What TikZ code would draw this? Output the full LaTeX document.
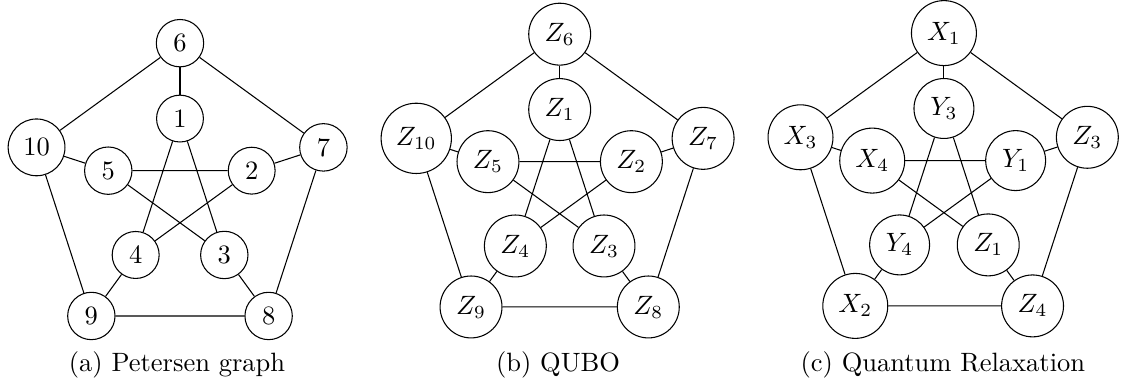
\documentclass[tikz,border=0pt]{standalone}
\usetikzlibrary{calc}
\tikzset{
  vtx/.style={circle, draw, line width=0.4pt},
  edge/.style={line width=0.4pt},
  captext/.style={anchor=base, inner sep=0pt}
}
\begin{document}
\begin{tikzpicture}
\useasboundingbox (0,0) rectangle (424.15pt,-146.04pt);
% (a)
\begin{scope}[shift={(67.92pt,-73.2pt)}]
  \node[vtx] (a6) at (90:2cm) {6};
  \node[vtx] (a7) at (18:2cm) {7};
  \node[vtx] (a8) at (-54:2cm) {8};
  \node[vtx] (a9) at (234:2cm) {9};
  \node[vtx] (a10) at (162:2cm) {10};
  \node[vtx] (a1) at (90:1cm) {1};
  \node[vtx] (a2) at (18:1cm) {2};
  \node[vtx] (a3) at (-54:1cm) {3};
  \node[vtx] (a4) at (234:1cm) {4};
  \node[vtx] (a5) at (162:1cm) {5};
\end{scope}
% (b)
\begin{scope}[shift={(211.2pt,-69.8pt)}]
  \node[vtx] (b6) at (90:2cm) {$Z_6$};
  \node[vtx] (b7) at (18:2cm) {$Z_7$};
  \node[vtx] (b8) at (-54:2cm) {$Z_8$};
  \node[vtx] (b9) at (234:2cm) {$Z_9$};
  \node[vtx] (b10) at (162:2cm) {$Z_{10}$};
  \node[vtx] (b1) at (90:1cm) {$Z_1$};
  \node[vtx] (b2) at (18:1cm) {$Z_2$};
  \node[vtx] (b3) at (-54:1cm) {$Z_3$};
  \node[vtx] (b4) at (234:1cm) {$Z_4$};
  \node[vtx] (b5) at (162:1cm) {$Z_5$};
\end{scope}
% (c)
\begin{scope}[shift={(356.2pt,-69.4pt)}]
  \node[vtx] (c6) at (90:2cm) {$X_1$};
  \node[vtx] (c7) at (18:2cm) {$Z_3$};
  \node[vtx] (c8) at (-54:2cm) {$Z_4$};
  \node[vtx] (c9) at (234:2cm) {$X_2$};
  \node[vtx] (c10) at (162:2cm) {$X_3$};
  \node[vtx] (c1) at (90:1cm) {$Y_3$};
  \node[vtx] (c2) at (18:1cm) {$Y_1$};
  \node[vtx] (c3) at (-54:1cm) {$Z_1$};
  \node[vtx] (c4) at (234:1cm) {$Y_4$};
  \node[vtx] (c5) at (162:1cm) {$X_4$};
\end{scope}
\foreach \g in {a,b,c}{
  \draw[edge] (\g6) -- (\g7) -- (\g8) -- (\g9) -- (\g10) -- (\g6);
  \draw[edge] (\g6) -- (\g1);
  \draw[edge] (\g7) -- (\g2);
  \draw[edge] (\g8) -- (\g3);
  \draw[edge] (\g9) -- (\g4);
  \draw[edge] (\g10) -- (\g5);
  \draw[edge] (\g1) -- (\g3) -- (\g5) -- (\g2) -- (\g4) -- (\g1);
}
\node[captext] (capa) at (66.8pt,-140.3pt) {(a) Petersen graph};
\node[captext] (capb) at (210.6pt,-140.3pt) {(b) QUBO};
\node[captext] (capc) at (355.8pt,-140.3pt) {(c) Quantum Relaxation};
\end{tikzpicture}
\end{document}
